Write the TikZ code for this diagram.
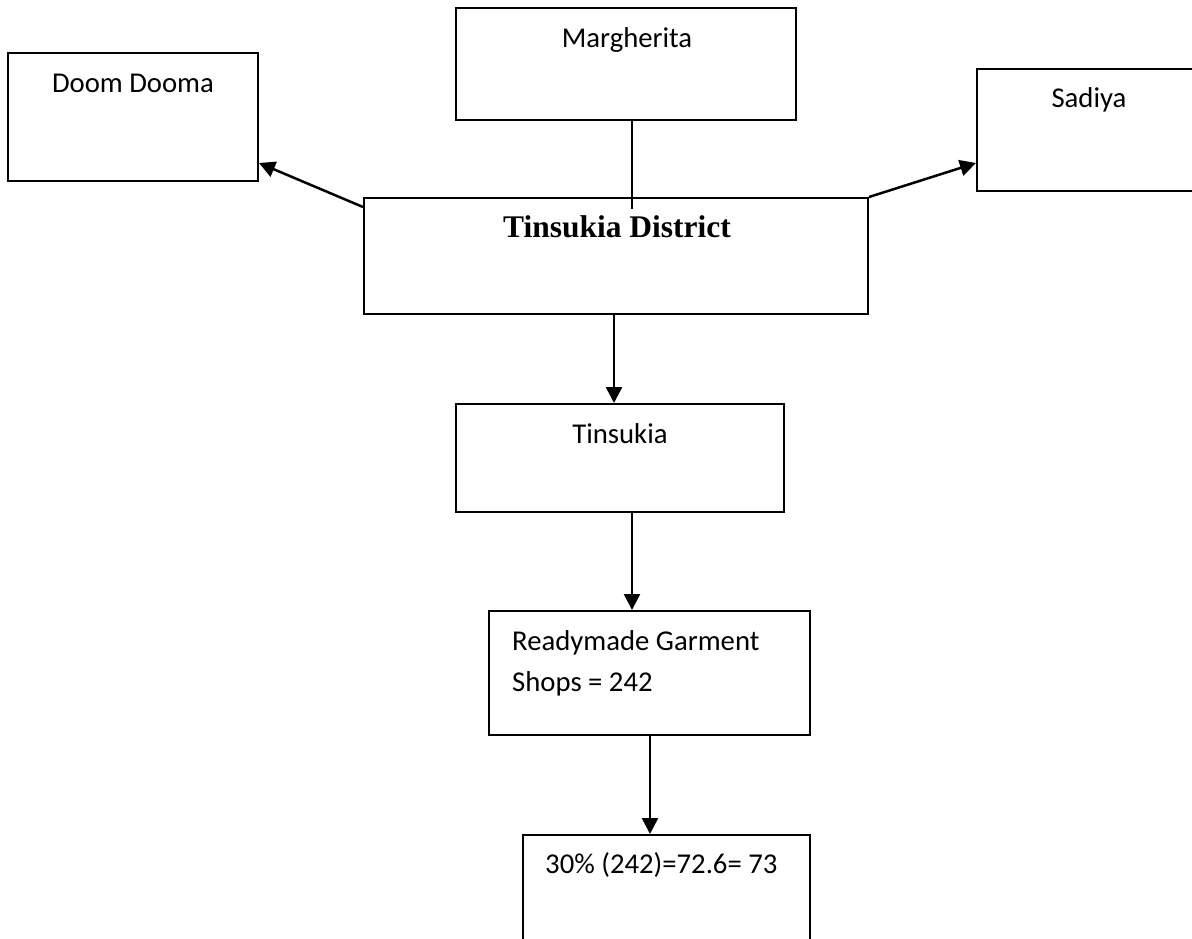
\documentclass[tikz,border=0pt]{standalone}
\usepackage{fontspec}
\setmainfont{Carlito}
\newfontfamily\tdfont{Liberation Serif}
\usetikzlibrary{arrows.meta}
\begin{document}
\begin{tikzpicture}[x=1pt,y=-1pt,
  box/.style={draw=black,line width=2pt,rectangle,inner sep=0pt},
  lbl/.style={inner sep=0pt,font=\fontsize{28.7}{40}\selectfont,anchor=base},
  conn/.style={draw=black,line width=2.5pt},
  arr/.style={conn,-{Triangle[length=16pt,width=16pt]}}]
\useasboundingbox (0,0) rectangle (1192,938);
\clip (0,0) rectangle (1192,938);
\fill[white] (0,0) rectangle (1192,938);
% boxes
\node[box,minimum width=250pt,minimum height=128pt] (dd) at (133,117) {};
\node[box,minimum width=340pt,minimum height=112pt] (marg) at (626,64) {};
\node[box,minimum width=273pt,minimum height=122pt] (sad) at (1113.5,130) {};
\node[box,minimum width=504pt,minimum height=116pt] (td) at (616,256) {};
\node[box,minimum width=328pt,minimum height=108pt] (tin) at (620,458) {};
\node[box,minimum width=321pt,minimum height=124pt] (rg) at (649.5,673) {};
\node[box,minimum width=287pt,minimum height=165pt] (p30) at (666.5,917.5) {};
% labels
\node[lbl] (tdd) at (133,92) {Doom Dooma};
\node[lbl] (tmarg) at (627,47) {Margherita};
\node[lbl] (tsad) at (1089,107) {Sadiya};
\node[lbl,font=\tdfont\bfseries\fontsize{31.5}{38}\selectfont] (ttd) at (617,237) {Tinsukia District};
\node[lbl] (ttin) at (620,443) {Tinsukia};
\node[lbl,anchor=base west] (trg1) at (512,650) {Readymade Garment};
\node[lbl,anchor=base west] (trg2) at (512,691) {Shops = 242};
\node[lbl,anchor=base west] (tp30) at (545,873) {30\% (242)=72.6= 73};
% connectors
\coordinate (mend) at (632,209);
\draw[conn] (marg.south -| mend) -- (mend);
\draw[arr] ([yshift=-10pt]td.north west) -- ([yshift=19pt]dd.south east);
\draw[arr] (td.north east) -- ([yshift=29pt]sad.south west);
\draw[arr] ([xshift=-2pt]td.south) -- ([xshift=-6pt]tin.north);
\draw[arr] ([xshift=12pt]tin.south) -- ([xshift=-17.5pt]rg.north);
\draw[arr] ([xshift=0.5pt]rg.south) -- ([xshift=-16.5pt]p30.north);
\end{tikzpicture}
\end{document}
